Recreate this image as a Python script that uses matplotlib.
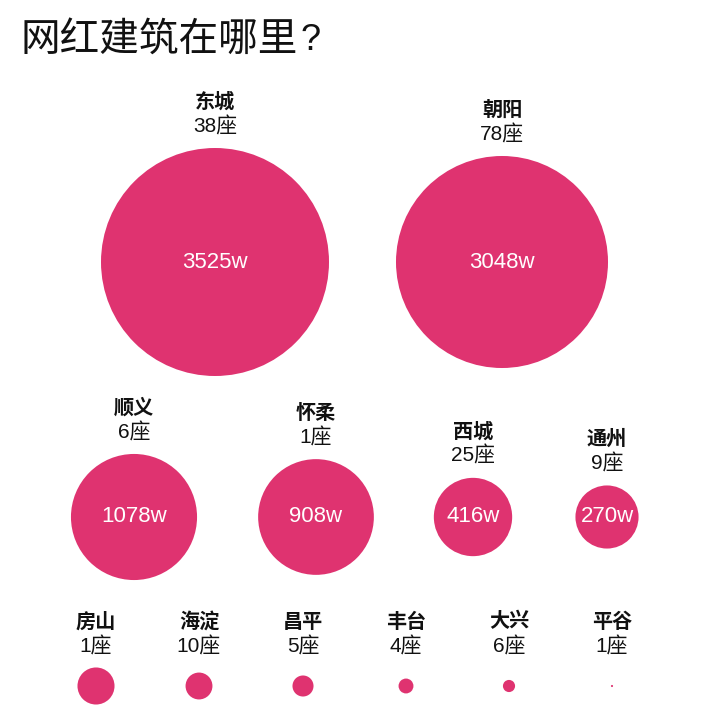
import matplotlib.pyplot as plt
from matplotlib.patches import Circle
import numpy as np

plt.rcParams['font.family'] = ['Noto Sans CJK SC', 'DejaVu Sans']
num_font = ['Liberation Sans', 'Noto Sans CJK SC']

# data
districts = ['东城', '朝阳', '顺义', '怀柔', '西城', '通州',
             '房山', '海淀', '昌平', '丰台', '大兴', '平谷']
counts = [38, 78, 6, 1, 25, 9, 1, 10, 5, 4, 6, 1]
values = [3525, 3048, 1078, 908, 416, 270, 93, 49, 30, 15, 10, 0.3]
labeled = 6  # first six bubbles show their value

# layout (pixel grid of a 710x710 canvas)
row_x = [[215, 502], [134, 316, 473, 607], [96, 199, 303, 406, 509, 612]]
row_y = [262, 517, 686]
max_r = 114
color = '#DF3370'

fig = plt.figure(figsize=(7.1, 7.1), dpi=100)
ax = fig.add_axes([0, 0, 1, 1])
ax.set_xlim(0, 710)
ax.set_ylim(710, 0)
ax.axis('off')

ax.text(21, 40, '网红建筑在哪里', fontsize=28.5, ha='left', va='center', color='#111111')
ax.text(300, 41, '?', fontsize=26, ha='left', va='center', color='#111111',
        family=['Liberation Sans'])

i = 0
for r, xs in enumerate(row_x):
    for x in xs:
        y = row_y[r]
        rad = max_r * np.sqrt(values[i] / max(values))
        ax.add_patch(Circle((x, y), rad, color=color, lw=0))
        if i < labeled:
            ax.text(x, y, f'{values[i]:g}w', fontsize=16, color='white',
                    ha='center', va='center', family=num_font)
            cy = y - rad - 22
        else:
            cy = 646
        ax.text(x, cy, f'{counts[i]}座', fontsize=15, color='#111111',
                ha='center', va='center', family=num_font)
        ax.text(x, cy - 25, districts[i], fontsize=14.5, fontweight='bold',
                color='#111111', ha='center', va='center')
        i += 1

fig.savefig('out.png', dpi=100, facecolor='white')
